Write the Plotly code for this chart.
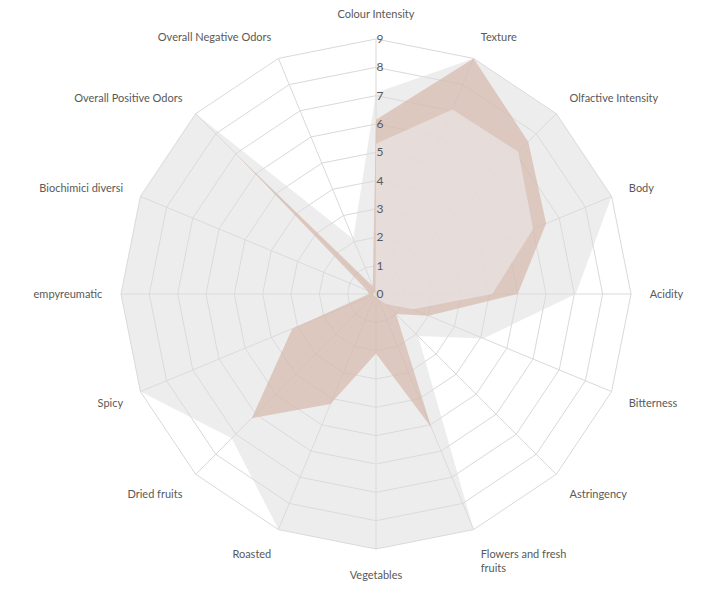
import plotly.graph_objects as go

categories = ["Colour Intensity", "Texture", "Olfactive Intensity", "Body", "Acidity",
              "Bitterness", "Astringency", "Flowers and fresh<br>fruits", "Vegetables",
              "Roasted", "Dried fruits", "Spicy", "empyreumatic", "Biochimici diversi",
              "Overall Positive Odors", "Overall Negative Odors"]

grey_series = [7.1, 9, 9, 9, 7.05, 4.1, 2.1, 9, 9, 9, 7.2, 9, 9, 9, 9, 2.1]
brown_series = [6.15, 9, 7.6, 6.5, 5.0, 2.0, 1.0, 5.1, 2.1, 4.2, 6.2, 3.2, 0.25, 0.35, 6.8, 0.3]
light_series = [5.3, 7.05, 7.1, 6.0, 4.1, 1.4, 0.5, 0.2, 0.1, 0.1, 0.1, 0.1, 0.1, 0.1, 0.1, 0.05]

radial_ticks = list(range(0, 10))


def closed(v):
    return v + v[:1]


fig = go.Figure()
fig.add_trace(go.Scatterpolar(r=closed(grey_series), theta=closed(categories), fill="toself",
                              mode="lines", line=dict(width=0, color="rgba(0,0,0,0)"),
                              fillcolor="rgba(219,219,219,0.5)", hoverinfo="skip"))
fig.add_trace(go.Scatterpolar(r=closed(brown_series), theta=closed(categories), fill="toself",
                              mode="lines", line=dict(width=0, color="rgba(0,0,0,0)"),
                              fillcolor="rgba(213,184,172,0.7)", hoverinfo="skip"))
fig.add_trace(go.Scatterpolar(r=closed(light_series), theta=closed(categories), fill="toself",
                              mode="lines", line=dict(width=0, color="rgba(0,0,0,0)"),
                              fillcolor="rgba(233,230,230,0.7)", hoverinfo="skip"))

# target centre (page pixels), minus the 8px page body margin
cx, cy, R = 368, 286, 255
W, H = 701, 603
fig.update_layout(
    width=W, height=H,
    margin=dict(l=0, r=0, t=0, b=0),
    paper_bgcolor="white",
    showlegend=False,
    font=dict(family="Lato", size=11, color="#595959"),
    polar=dict(
        domain=dict(x=[(cx - R) / W, (cx + R) / W], y=[(H - cy - R) / H, (H - cy + R) / H]),
        bgcolor="white",
        gridshape="linear",
        radialaxis=dict(range=[0, 9], tickvals=radial_ticks, angle=90, tickangle=90,
                        showline=False, gridcolor="#D9D9D9", gridwidth=1, ticks="",
                        tickfont=dict(size=12, color="#595959"), layer="above traces"),
        angularaxis=dict(direction="clockwise", rotation=90, gridcolor="#D9D9D9",
                         linecolor="#D9D9D9", showline=True, ticks="outside", ticklen=16,
                         tickcolor="rgba(0,0,0,0)", tickfont=dict(size=11, color="#595959"),
                         layer="above traces"),
    ),
)
fig.write_html("out.html")
